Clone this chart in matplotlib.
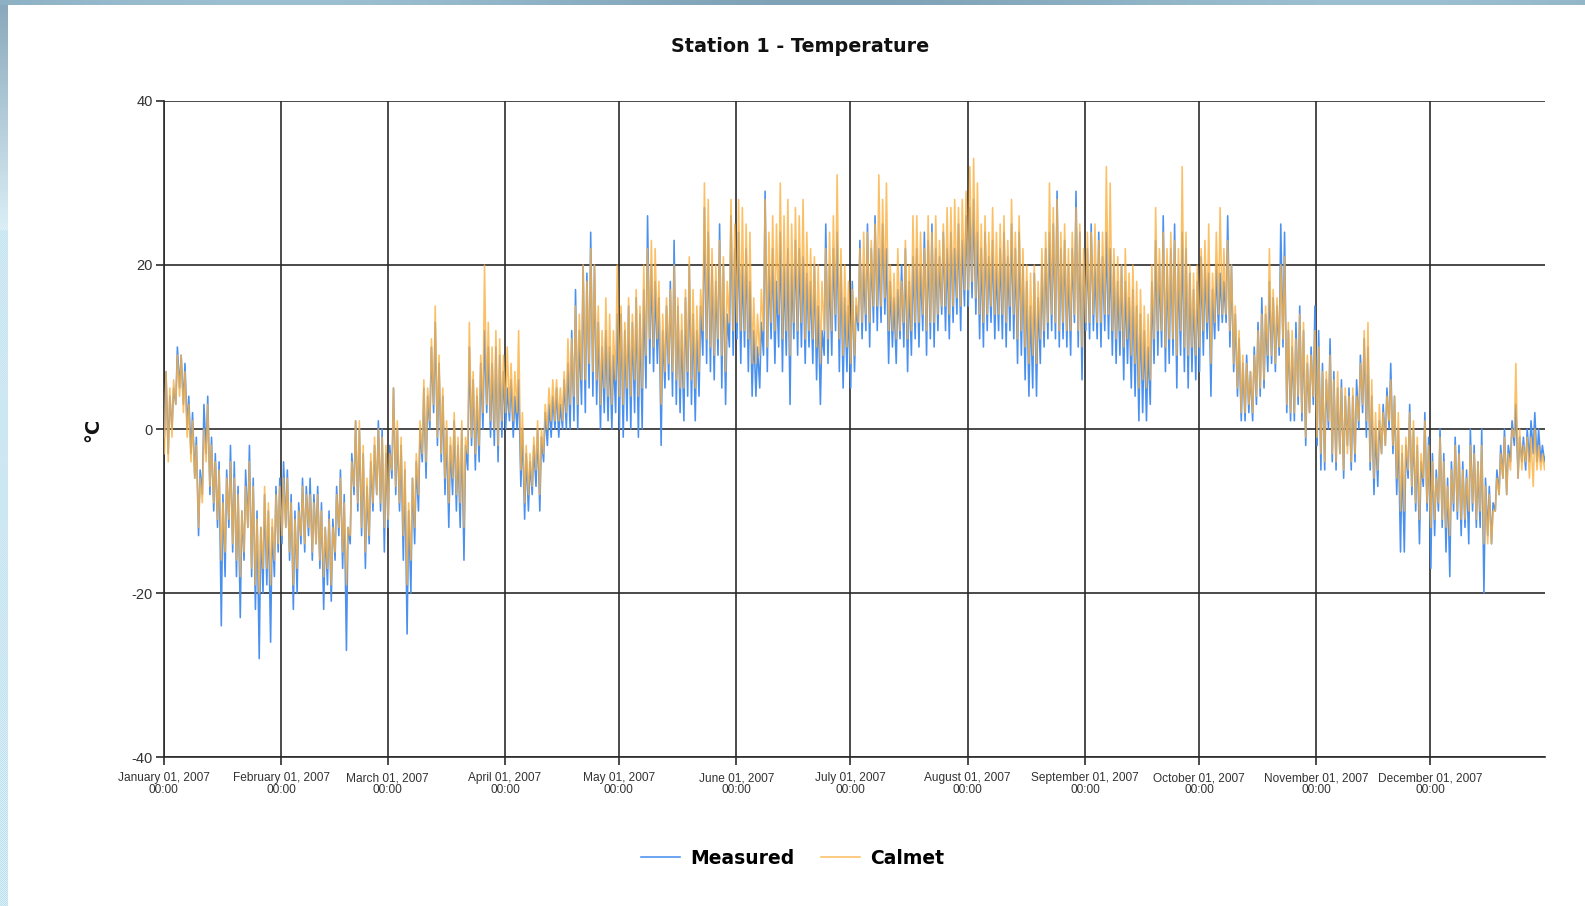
import numpy as np
import pandas as pd
import matplotlib
matplotlib.use('Agg')
import matplotlib.pyplot as plt
import matplotlib.dates as mdates
from matplotlib.colors import to_rgb

plt.rcParams['axes.unicode_minus'] = False

# Daily extremes (°C), one value per day of 2007, month by month
measured_hi = [
    7, 4, 5, 10, 9, 8, 4, 2, -1, -5, 3, 4, -1, -3, -4, -8, -5, -2, -4, -7, -10, -5, -2, -6, -10, -12, -8, -10, -12, -7, -6,
    -4, -5, -8, -10, -9, -6, -7, -6, -8, -7, -9, -12, -10, -11, -7, -5, -8, -12, -3, 1, 0, -3, -7, -4, -2, 1, 0, -3,
    -2, 5, 0, -2, -5, -10, -6, -4, 0, 5, 4, 10, 13, 8, 4, 0, -2, 1, -2, 0, -2, 10, 6, 4, 8, 12, 10, 8, 10, 9, 7,
    5, 6, 4, 6, 0, -3, -4, -2, 0, -1, 2, 3, 4, 5, 3, 6, 8, 12, 17, 12, 20, 19, 24, 20, 13, 10, 12, 10, 9, 14,
    14, 12, 15, 13, 16, 14, 17, 26, 20, 18, 16, 12, 15, 18, 23, 15, 12, 16, 20, 14, 12, 15, 27, 24, 20, 18, 25, 20, 14, 26, 22,
    24, 20, 22, 18, 12, 10, 13, 29, 20, 22, 18, 24, 20, 22, 20, 23, 22, 21, 19, 18, 20, 15, 12, 25, 20, 22, 24, 20, 16, 15,
    18, 15, 23, 20, 25, 22, 26, 22, 25, 22, 18, 16, 17, 20, 22, 18, 21, 22, 20, 24, 23, 25, 22, 21, 24, 22, 24, 22, 25, 23, 26,
    27, 28, 24, 22, 24, 21, 23, 20, 22, 24, 21, 25, 22, 24, 20, 18, 15, 19, 16, 20, 22, 24, 25, 29, 22, 23, 20, 22, 29, 24, 20,
    22, 25, 20, 24, 21, 24, 22, 20, 18, 20, 18, 16, 17, 15, 14, 12, 10, 18, 23, 20, 26, 20, 22, 25, 20, 24, 22, 19, 17, 18,
    21, 20, 19, 17, 20, 19, 18, 26, 20, 14, 11, 8, 9, 7, 10, 13, 16, 14, 18, 16, 15, 25, 24, 12, 10, 13, 15, 12, 8, 10, 15,
    12, 8, 6, 11, 7, 5, 6, 4, 5, 4, 6, 9, 11, 10, 4, 0, 1, 3, 5, 8, 4, 0, -3, -2, 3, 0, -2, -4, 2, -1,
    -3, -5, 0, -3, -6, -4, -1, -2, -4, -5, 0, -2, -4, 0, -6, -7, -9, -5, -2, 0, -2, 1, 3, -1, -1, 0, 1, 2, 0, -2, -3,
]
measured_lo = [
    -1, -3, 0, 3, 5, 3, 0, -3, -6, -13, -8, -3, -8, -10, -12, -24, -18, -12, -15, -18, -23, -16, -12, -18, -22, -28, -20, -19, -26, -18, -15,
    -14, -12, -16, -22, -20, -14, -15, -13, -16, -14, -17, -22, -19, -21, -16, -13, -17, -27, -14, -8, -10, -13, -17, -14, -10, -8, -10, -15,
    -12, -6, -8, -10, -16, -25, -20, -14, -10, -4, -6, 0, 2, -2, -4, -8, -12, -8, -10, -12, -16, -5, -2, -5, -4, 0, 2, -1, -2, -4, -1,
    0, 1, -1, 0, -7, -11, -10, -8, -7, -10, -4, -2, -1, 0, -1, 0, 0, 0, 1, 0, 3, 2, 5, 4, 3, 0, 2, 1, 0, 2,
    0, -1, 1, 0, 2, -1, 0, 5, 8, 7, 8, -2, 5, 6, 4, 3, 2, 1, 4, 3, 1, 4, 9, 8, 7, 6, 9, 5, 3, 10, 9,
    11, 8, 10, 7, 4, 4, 5, 9, 7, 11, 8, 10, 7, 9, 3, 11, 9, 10, 8, 10, 8, 6, 3, 9, 8, 9, 12, 7, 5, 7,
    5, 7, 12, 11, 12, 10, 13, 12, 13, 14, 8, 10, 8, 11, 10, 7, 9, 11, 10, 12, 9, 11, 10, 12, 14, 12, 11, 13, 14, 12, 15,
    15, 16, 14, 11, 10, 12, 13, 11, 12, 11, 10, 12, 11, 8, 9, 6, 4, 5, 4, 8, 10, 11, 12, 11, 10, 11, 10, 9, 13, 10, 6,
    12, 11, 12, 11, 10, 12, 11, 9, 8, 9, 6, 8, 5, 4, 1, 2, 1, 3, 8, 9, 10, 7, 8, 9, 5, 9, 7, 5, 7, 6,
    7, 9, 11, 4, 11, 12, 13, 13, 10, 7, 4, 1, 1, 2, 1, 3, 4, 5, 7, 8, 7, 9, 10, 2, 1, 1, 3, 1, -2, 2, 3,
    -2, -5, -5, 0, -4, -5, -3, -6, -2, -5, -4, 0, 2, -1, -5, -8, -7, -3, -2, 0, -3, -8, -15, -15, -6, -8, -10, -14, -7, -10,
    -17, -13, -10, -12, -15, -18, -10, -11, -13, -12, -14, -10, -12, -12, -20, -13, -14, -10, -8, -6, -8, -4, -2, -6, -4, -5, -4, -3, -4, -4, -4,
]
calmet_hi = [
    7, 5, 6, 9, 9, 7, 3, 1, -2, -6, 0, 3, -2, -4, -5, -9, -6, -4, -6, -8, -10, -7, -4, -7, -11, -12, -7, -9, -11, -8, -7,
    -6, -6, -9, -11, -10, -7, -8, -8, -9, -8, -10, -12, -11, -12, -8, -6, -9, -12, -4, 1, 1, -2, -6, -3, -1, 0, -1, -2,
    -3, 5, 1, -1, -4, -9, -6, -3, 1, 6, 5, 11, 15, 9, 5, 1, -1, 2, -1, 1, -1, 13, 7, 5, 9, 20, 13, 10, 12, 11, 9,
    10, 8, 7, 12, 2, -2, -3, -1, 1, 0, 3, 5, 6, 6, 5, 7, 11, 11, 15, 14, 20, 18, 22, 20, 15, 12, 16, 14, 12, 20,
    15, 13, 16, 14, 17, 15, 20, 22, 23, 22, 18, 14, 16, 17, 20, 16, 14, 17, 21, 17, 15, 17, 30, 28, 22, 20, 23, 21, 18, 28, 25,
    28, 27, 25, 24, 16, 14, 17, 28, 24, 26, 25, 30, 26, 28, 25, 27, 26, 28, 24, 22, 21, 20, 18, 22, 24, 26, 31, 22, 20, 18,
    17, 16, 22, 24, 24, 23, 25, 31, 28, 30, 20, 19, 22, 18, 23, 20, 26, 26, 24, 22, 26, 24, 26, 23, 25, 27, 27, 28, 27, 28, 29,
    32, 33, 30, 25, 26, 24, 27, 24, 25, 26, 23, 28, 24, 26, 22, 20, 19, 20, 18, 22, 24, 30, 27, 28, 24, 25, 22, 24, 27, 25, 22,
    24, 24, 25, 23, 24, 32, 30, 22, 21, 20, 22, 19, 20, 18, 17, 15, 14, 20, 27, 22, 24, 22, 24, 23, 22, 32, 24, 20, 19, 20,
    22, 23, 25, 19, 24, 27, 22, 23, 20, 15, 12, 9, 8, 7, 9, 12, 14, 15, 22, 17, 16, 20, 21, 13, 12, 11, 14, 13, 9, 9, 12,
    10, 7, 7, 9, 6, 7, 5, 5, 4, 5, 4, 8, 12, 13, 6, 2, 3, 2, 4, 6, 4, 2, -2, -1, 2, 1, -1, -3, 1, -2,
    -4, -6, -1, -4, -7, -5, -2, -3, -5, -6, -2, -3, -4, -2, -7, -8, -10, -6, -3, -1, -3, 0, 8, 0, -2, -1, -1, 0, -2, -3, -3,
]
calmet_lo = [
    -3, -4, -1, 3, 4, 2, -1, -4, -6, -12, -9, -4, -7, -9, -11, -16, -15, -11, -14, -16, -18, -15, -12, -17, -19, -20, -17, -17, -19, -16, -14,
    -13, -12, -15, -19, -17, -13, -14, -12, -15, -14, -16, -18, -17, -19, -15, -12, -15, -19, -13, -7, -9, -12, -15, -13, -9, -8, -9, -12,
    -11, -5, -7, -9, -13, -19, -16, -12, -8, -3, -4, 1, 3, -1, -3, -6, -9, -6, -8, -9, -12, -3, -1, -3, -2, 2, 3, 1, 0, -2, 1,
    2, 2, 1, 2, -5, -9, -8, -7, -5, -8, -3, 0, 1, 1, 1, 1, 2, 3, 4, 3, 6, 6, 8, 7, 6, 3, 5, 4, 3, 6,
    4, 3, 5, 4, 6, 4, 5, 9, 11, 10, 11, 3, 7, 8, 7, 6, 5, 5, 7, 6, 5, 7, 12, 11, 10, 9, 11, 9, 7, 13, 12,
    13, 12, 12, 11, 8, 8, 9, 12, 10, 13, 12, 14, 11, 12, 9, 13, 12, 13, 11, 12, 11, 10, 8, 12, 11, 12, 14, 11, 9, 10,
    8, 9, 13, 13, 14, 13, 15, 15, 15, 16, 12, 12, 11, 12, 13, 11, 12, 13, 13, 14, 12, 13, 13, 14, 15, 15, 14, 15, 16, 15, 17,
    17, 18, 16, 14, 13, 14, 15, 14, 14, 14, 13, 15, 14, 11, 12, 10, 8, 9, 8, 11, 12, 13, 14, 13, 12, 13, 12, 12, 14, 12, 10,
    13, 13, 14, 13, 13, 14, 14, 12, 11, 12, 10, 11, 9, 8, 5, 6, 5, 6, 11, 12, 12, 10, 11, 11, 9, 12, 10, 9, 10, 9,
    10, 12, 13, 8, 13, 14, 14, 14, 12, 8, 5, 2, 2, 3, 2, 4, 5, 6, 9, 9, 8, 10, 11, 3, 2, 2, 4, 2, -1, 2, 4,
    -1, -3, -4, 1, -3, -4, -3, -5, -3, -4, -3, 1, 3, 1, -4, -6, -5, -3, -2, 1, -2, -6, -10, -10, -5, -7, -9, -11, -6, -9,
    -12, -11, -9, -11, -12, -13, -9, -10, -11, -11, -10, -9, -11, -10, -14, -14, -14, -10, -8, -6, -8, -5, -1, -6, -5, -4, -6, -7, -5, -5, -5,
]

y_ticks = [-40, -20, 0, 20, 40]
month_starts = pd.date_range('2007-01-01', periods=12, freq='MS')

# night minimum at 04:00, afternoon maximum at 14:00
days = pd.date_range('2007-01-01', periods=len(measured_hi), freq='D').values
times = np.column_stack([days + np.timedelta64(4, 'h'), days + np.timedelta64(14, 'h')]).ravel()
measured = np.column_stack([measured_lo, measured_hi]).ravel()
calmet = np.column_stack([calmet_lo, calmet_hi]).ravel()

W, H = 1585, 906
fig = plt.figure(figsize=(W / 100, H / 100), dpi=100)

# window chrome: blue band on top, textured strip on the left
band = fig.add_axes([0, 1 - 5 / H, 1, 5 / H])
row = np.linspace(0, 1, 400)
c1, c2 = np.array(to_rgb('#7fa2b6')), np.array(to_rgb('#9cc0d2'))
grad = c1 + (c2 - c1) * (0.5 + 0.5 * np.sin(row * 9))[:, None]
band.imshow(grad[None, :, :], aspect='auto', extent=[0, 1, 0, 1])
band.axis('off')

strip = fig.add_axes([0, 0, 8 / W, 1 - 5 / H])
n = 900
top, mid, dots = np.array(to_rgb('#8aa9bc')), np.array(to_rgb('#dbeff6')), np.array(to_rgb('#bfe1ee'))
img = np.ones((n, 8, 3))
for i in range(n):
    t = i / n
    if t < 0.25:
        img[i, :] = top + (mid - top) * (t / 0.25)
    else:
        img[i, :] = mid
        img[i, (i % 2)::2] = dots
strip.imshow(img, aspect='auto', extent=[0, 1, 0, 1])
strip.axis('off')

ax = fig.add_axes([163.8 / W, 1 - 757 / H, (1544.6 - 163.8) / W, (757 - 101) / H])
ax.plot(times, measured, color='#4a90ee', lw=1.15, label='Measured', zorder=3)
ax.plot(times, calmet, color='#fbb040', lw=1.15, alpha=0.8, label='Calmet', zorder=4)

ax.set_ylim(-40, 40)
ax.set_yticks(y_ticks)
ax.set_xlim(np.datetime64('2007-01-01T00:00'), np.datetime64('2007-12-31T04:00'))
ax.set_xticks(month_starts)
ax.xaxis.set_major_formatter(mdates.DateFormatter('%B %d, %Y\n%H:%M'))

ax.grid(True, color='#2b2b2b', lw=1.2, zorder=1)
for s in ['top', 'right']:
    ax.spines[s].set_visible(False)
for s in ['left', 'bottom']:
    ax.spines[s].set_color('#2b2b2b')
    ax.spines[s].set_linewidth(1.2)
ax.tick_params(direction='out', length=6, width=1.2, color='#2b2b2b')
ax.tick_params(axis='x', labelsize=8.6, labelcolor='#333333', pad=5)
ax.tick_params(axis='y', labelsize=10.5, labelcolor='#333333', pad=2)
for lab in ax.get_xticklabels():
    lab.set_fontfamily('Liberation Sans')
    lab.set_linespacing(0.95)
for lab in ax.get_yticklabels():
    lab.set_fontfamily('Liberation Sans')

fig.text(800 / W, 1 - 46.5 / H, 'Station 1 - Temperature', ha='center', va='center',
         fontsize=13.8, fontweight='bold', color='#111111')
fig.text(93 / W, 1 - 430 / H, '°C', ha='center', va='center', rotation=90,
         fontsize=14, fontweight='bold', color='#111111')

fig.legend(loc='center', bbox_to_anchor=(0.5, 1 - 858 / H), ncol=2, frameon=False,
           prop={'size': 13.5, 'weight': 'bold'}, handlelength=2.1,
           handletextpad=0.55, columnspacing=1.4)

fig.savefig('out.png', dpi=100)
